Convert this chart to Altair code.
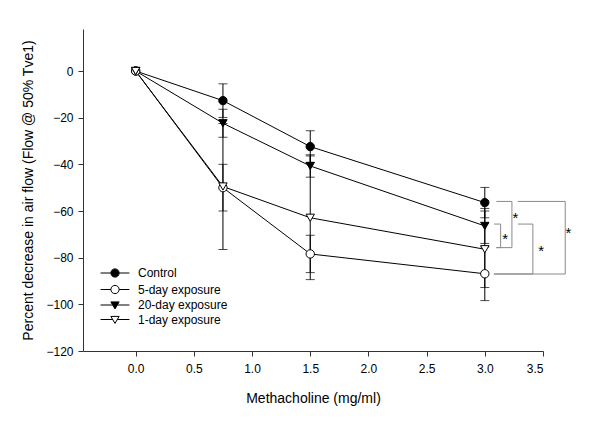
import altair as alt
import pandas as pd

# ---- data ----
doses = [0.0, 0.75, 1.5, 3.0]
series_names = ["Control", "5-day exposure", "20-day exposure", "1-day exposure"]
control = [0.0, -12.7, -32.4, -56.4]
control_err = [0.0, 7.2, 6.8, 6.5]
five_day = [0.0, -50.0, -78.4, -86.9]
five_day_err = [0.0, 10.0, 8.0, 11.5]
twenty_day = [0.0, -22.4, -40.7, -66.4]
twenty_day_err = [0.0, 6.0, 4.8, 7.5]
one_day = [0.0, -49.5, -62.9, -76.4]
one_day_err = [0.0, 27.0, 26.5, 16.4]

# significance brackets at the 3.0 mg/ml dose
br_top_start = [3.099, 3.080, 3.284, 3.284]
br_bot_start = [3.099, 3.099, 3.078, 3.078]
br_vert_x = [3.233, 3.136, 3.413, 3.691]
br_top_y = [-55.9, -65.6, -65.6, -55.9]
br_bot_y = [-75.7, -75.7, -87.0, -87.0]
star_x = [3.262, 3.176, 3.485, 3.719]
star_y = [-61.4, -70.3, -75.3, -67.7]

x_ticks = [0.0, 0.5, 1.0, 1.5, 2.0, 2.5, 3.0, 3.5]
y_ticks = [-120, -100, -80, -60, -40, -20, 0]

# ---- tables ----
rows = []
for name, vals, errs in [
    ("Control", control, control_err),
    ("5-day exposure", five_day, five_day_err),
    ("20-day exposure", twenty_day, twenty_day_err),
    ("1-day exposure", one_day, one_day_err),
]:
    for d, v, e in zip(doses, vals, errs):
        rows.append({"dose": d, "value": v, "lo": v - e, "hi": v + e, "err": e, "series": name})
df = pd.DataFrame(rows)
df_err = df[df["err"] > 0]

br = pd.DataFrame({
    "ts": br_top_start, "bs": br_bot_start, "vx": br_vert_x,
    "ty": br_top_y, "by": br_bot_y,
})
stars = pd.DataFrame({"x": star_x, "y": star_y, "t": ["*"] * len(star_x)})

FONT = "Liberation Sans"
xscale = alt.Scale(domain=[-0.4525, 3.5], nice=False, zero=False)
yscale = alt.Scale(domain=[-120, 18], nice=False, zero=False)

X = alt.X("dose:Q", scale=xscale, title="Methacholine (mg/ml)",
          axis=alt.Axis(values=x_ticks, format=".1f", grid=False, labelPadding=7, titlePadding=17))
Y = alt.Y("value:Q", scale=yscale, title="Percent decrease in air flow (Flow @ 50% Tve1)",
          axis=alt.Axis(values=y_ticks, format="d", grid=False, labelPadding=5, titlePadding=10))

base = alt.Chart(df)

lines = base.mark_line(color="black", strokeWidth=1).encode(
    x=X, y=Y, detail="series:N", order="dose:Q"
)

err_rule = alt.Chart(df_err).mark_rule(color="black", strokeWidth=1).encode(
    x="dose:Q", y="lo:Q", y2="hi:Q"
)
cap_lo = alt.Chart(df_err).mark_tick(color="black", orient="horizontal", size=9, thickness=1).encode(
    x="dose:Q", y="lo:Q"
)
cap_hi = alt.Chart(df_err).mark_tick(color="black", orient="horizontal", size=9, thickness=1).encode(
    x="dose:Q", y="hi:Q"
)

points = base.mark_point(stroke="black", strokeWidth=1, opacity=1, size=70).encode(
    x="dose:Q", y="value:Q",
    shape=alt.Shape("series:N", scale=alt.Scale(domain=series_names,
                    range=["circle", "circle", "triangle-down", "triangle-down"]), legend=None),
    fill=alt.Fill("series:N", scale=alt.Scale(domain=series_names,
                  range=["black", "white", "black", "white"]), legend=None),
)

circ = "M-1,0A1,1,0,1,1,1,0A1,1,0,1,1,-1,0Z"
tri = "M-1,-0.75L1,-0.75L0,0.95Z"
leg_circle = "M-3.5,0H-1M1,0H3.5" + circ
leg_tri = "M-3.5,0H-0.55M0.55,0H3.5" + tri

legend_kw = dict(title=None, orient="none", legendX=26, legendY=238,
                 symbolSize=68, labelOffset=17, rowPadding=2.5,
                 symbolStrokeWidth=1,
                 labelFont=FONT, labelFontSize=12, labelColor="black",
                 padding=0)

legend_layer = base.transform_filter("datum.dose < -100").mark_point(
    strokeWidth=1, opacity=1
).encode(
    x="dose:Q", y="value:Q",
    shape=alt.Shape("series:N", scale=alt.Scale(domain=series_names,
                    range=[leg_circle, leg_circle, leg_tri, leg_tri]),
                    sort=series_names, legend=alt.Legend(**legend_kw)),
    fill=alt.Fill("series:N", scale=alt.Scale(domain=series_names,
                  range=["black", "white", "black", "white"]), sort=series_names,
                  legend=alt.Legend(**legend_kw)),
    stroke=alt.Stroke("series:N", scale=alt.Scale(domain=series_names,
                      range=["black", "black", "black", "black"]), sort=series_names,
                      legend=alt.Legend(**legend_kw)),
)

GRAY = "#8a8a8a"
br_top = alt.Chart(br).mark_rule(color=GRAY, strokeWidth=1).encode(
    x=alt.X("ts:Q"), x2="vx:Q", y=alt.Y("ty:Q"))
br_bot = alt.Chart(br).mark_rule(color=GRAY, strokeWidth=1).encode(
    x=alt.X("bs:Q"), x2="vx:Q", y=alt.Y("by:Q"))
br_v = alt.Chart(br).mark_rule(color=GRAY, strokeWidth=1).encode(
    x=alt.X("vx:Q"), y=alt.Y("ty:Q"), y2="by:Q")
star_text = alt.Chart(stars).mark_text(font=FONT, fontSize=15, color="black",
                                       baseline="alphabetic", dy=9).encode(
    x="x:Q", y="y:Q", text="t:N")

chart = alt.layer(
    lines, err_rule, cap_lo, cap_hi, br_top, br_bot, br_v, star_text, points, legend_layer
).resolve_scale(shape="independent", fill="independent", stroke="independent").resolve_legend(
    shape="independent", fill="independent", stroke="independent"
).properties(
    width=460, height=322,
    autosize=alt.AutoSizeParams(type="none"),
    padding={"left": 75, "top": 21, "right": 49, "bottom": 62},
).configure_view(stroke=None).configure_axis(
    domainColor="#333333", tickColor="#333333", tickSize=5,
    labelFont=FONT, labelFontSize=12, labelColor="black",
    titleFont=FONT, titleFontSize=14, titleFontWeight="normal", titleColor="black",
)

chart.save("out.html", embed_options={"renderer": "svg", "actions": False})
